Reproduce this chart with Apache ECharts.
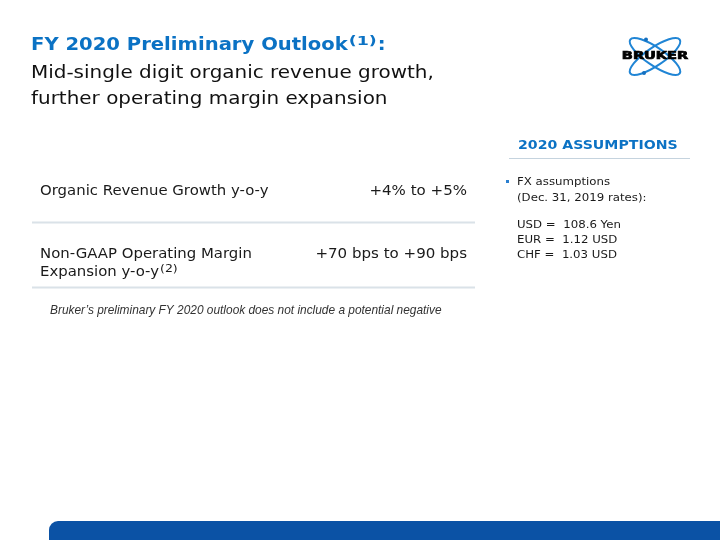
<!DOCTYPE html>
<html>
<head>
<meta charset="utf-8">
<script src="https://cdn.jsdelivr.net/npm/echarts@6/dist/echarts.min.js"></script>
<style>html,body{margin:0;padding:0;background:#fff}#c{width:720px;height:540px}</style>
</head>
<body>
<div id="c"></div>
<script>
const titleMain = 'FY 2020 Preliminary Outlook';
const titleSup = '(1)';
const titleTail = ':';
const subtitleLines = ['Mid-single digit organic revenue growth,', 'further operating margin expansion'];
const metricLabels = [['Organic Revenue Growth y-o-y'], ['Non-GAAP Operating Margin', 'Expansion y-o-y']];
const metricSups = ['', '(2)'];
const metricValues = ['+4% to +5%', '+70 bps to +90 bps'];
const assumptionsHeader = '2020 ASSUMPTIONS';
const fxBullet = ['FX assumptions', '(Dec. 31, 2019 rates):'];
const fxRates = ['USD =  108.6 Yen', 'EUR =  1.12 USD', 'CHF =  1.03 USD'];
const footnote = 'Bruker\u2019s preliminary FY 2020 outlook does not include a potential negative';
const logoText = 'BRUKER';

const BLUE = '#0b72c4';
const FONT = '"DejaVu Sans", Verdana, sans-serif';
const cv = document.createElement('canvas').getContext('2d');
function tw(t, f) { cv.font = f; return cv.measureText(t).width; }

const chart = echarts.init(document.getElementById('c'), null, {renderer: 'canvas'});
const g = [];
function txt(t, x, y, opts, sx) {
  g.push({type: 'text', x: x, y: y, scaleX: sx || 1, style: Object.assign({text: t, fill: '#111', verticalAlign: 'middle', textAlign: 'left'}, opts)});
}

// Title
const tFont = 'bold 17.5px ' + FONT, tSx = 1.12;
const tX = 31, tY = 45.5;
txt(titleMain, tX, tY, {font: tFont, fill: BLUE}, tSx);
const w1 = tw(titleMain, tFont) * tSx;
const supFont = 'bold 12px ' + FONT, supSx = 1.45;
txt(titleSup, tX + w1 + 1, tY - 4, {font: supFont, fill: BLUE}, supSx);
const w2 = tw(titleSup, supFont) * supSx;
txt(titleTail, tX + w1 + w2 + 2, tY, {font: tFont, fill: BLUE}, tSx);
const subFont = '17.5px ' + FONT;
subtitleLines.forEach((s, i) => txt(s, 31, 73 + i * 26, {font: subFont, fill: '#111'}, 1.14));

// Metrics table
const mFont = '13.8px ' + FONT, mSx = 1.08;
const rowY = [191, 254.5];
metricLabels.forEach((lines, i) => {
  lines.forEach((l, j) => {
    const y = rowY[i] + j * 18;
    txt(l, 40, y, {font: mFont, fill: '#1a1a1a'}, mSx);
    if (j === lines.length - 1 && metricSups[i]) {
      txt(metricSups[i], 40 + tw(l, mFont) * mSx + 1, y - 3.5, {font: '10px ' + FONT, fill: '#1a1a1a'}, 1.25);
    }
  });
  txt(metricValues[i], 467, rowY[i], {font: mFont, fill: '#1a1a1a', textAlign: 'right'}, 1.09);
});
[222.5, 287.5].forEach(y => g.push({type: 'line', shape: {x1: 32, y1: y, x2: 475, y2: y}, style: {stroke: '#dae2e8', lineWidth: 2}}));
txt(footnote, 50, 311, {font: 'italic 11.9px "Liberation Sans", Arial, sans-serif', fill: '#333'});

// Assumptions column
txt(assumptionsHeader, 518, 146, {font: 'bold 12.5px ' + FONT, fill: BLUE}, 1.13);
g.push({type: 'line', shape: {x1: 509, y1: 158.5, x2: 690, y2: 158.5}, style: {stroke: '#c5d3de', lineWidth: 1}});
g.push({type: 'rect', shape: {x: 506, y: 180, width: 3, height: 3}, style: {fill: '#2a7fd0'}});
const sFont = '10.5px ' + FONT, sSx = 1.12;
fxBullet.forEach((s, i) => txt(s, 517, 182 + i * 16, {font: sFont, fill: '#1a1a1a'}, sSx));
fxRates.forEach((s, i) => txt(s, 517, 225 + i * 15, {font: sFont, fill: '#1a1a1a'}, sSx));

// Logo
const lc = [655, 56.5];
[0.6, -0.6].forEach(r => g.push({type: 'ellipse', x: lc[0], y: lc[1], rotation: r, shape: {cx: 0, cy: 0, rx: 30, ry: 9}, style: {fill: 'none', stroke: '#2085d5', lineWidth: 2}}));
[[646, 39.5], [644, 73]].forEach(p => g.push({type: 'circle', shape: {cx: p[0], cy: p[1], r: 2}, style: {fill: '#1570c0'}}));
g.push({type: 'text', x: 655, y: 56.5, scaleX: 1.45, style: {text: logoText, font: 'bold 10px ' + FONT, fill: '#000', stroke: '#000', lineWidth: 0.7, textAlign: 'center', verticalAlign: 'middle'}});

// Bottom bar
g.push({type: 'rect', shape: {x: 49, y: 521, width: 690, height: 30, r: [9, 0, 0, 0]}, style: {fill: '#0b52a5'}});

chart.setOption({backgroundColor: '#fff', animation: false, graphic: {elements: g}});
</script>
</body>
</html>
